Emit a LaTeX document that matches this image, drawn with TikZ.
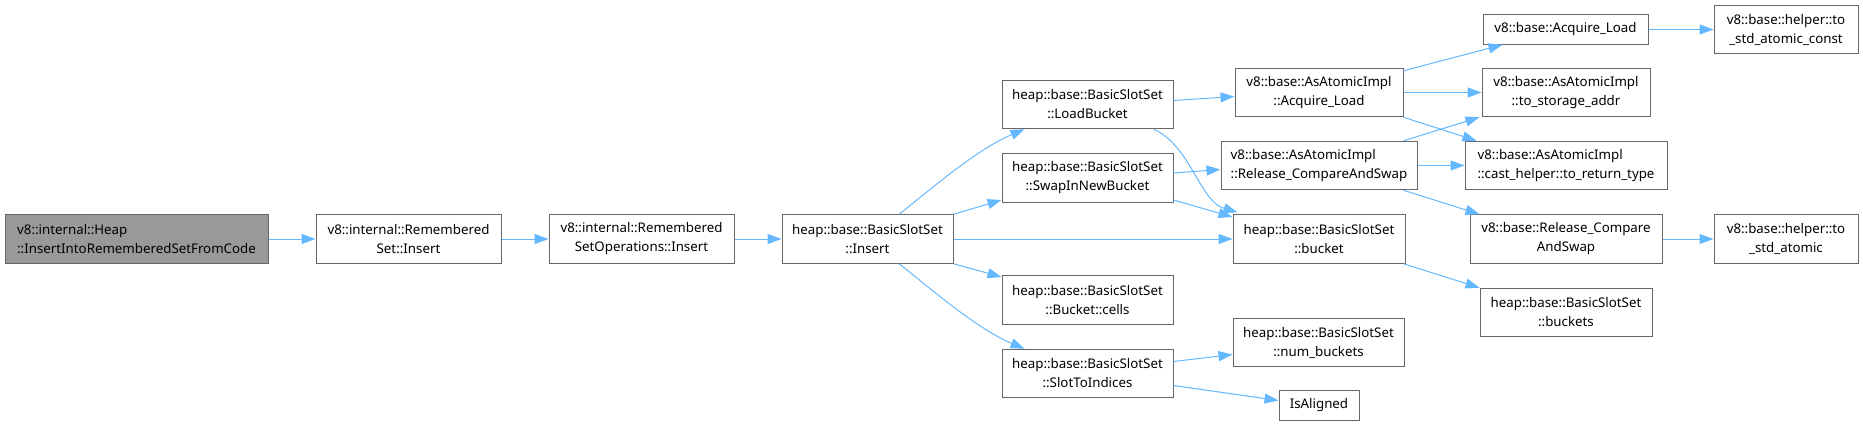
\documentclass[tikz,border=0pt]{standalone}
\usepackage{fontspec}
\setmainfont{Noto Sans}
\usetikzlibrary{calc,arrows.meta}
\definecolor{edgec}{HTML}{63B8FF}
\definecolor{boxc}{HTML}{666666}
\definecolor{hil}{HTML}{999999}
\begin{document}
\begin{tikzpicture}[x=1pt,y=-1pt,
  box/.style={draw=boxc,line width=1pt,fill=white,inner sep=0pt,minimum height=48.5pt,align=center,font=\fontsize{13.3}{19}\selectfont},
  sbox/.style={box,minimum height=29.5pt},
  lbox/.style={box,align=left},
  edge/.style={draw=edgec,line width=1pt,-{Triangle[length=14pt,width=10pt]}}]
\useasboundingbox (0,0) rectangle (1863,426);
% nodes
\node[lbox,fill=hil,minimum width=263pt] (heap) at (136.5,239) {v8::internal::Heap\\::InsertIntoRememberedSetFromCode};
\node[box,minimum width=185pt] (rs) at (408.5,239) {v8::internal::Remembered\\Set::Insert};
\node[box,minimum width=185pt] (rso) at (641.5,239) {v8::internal::Remembered\\SetOperations::Insert};
\node[box,minimum width=171pt] (ins) at (867.5,239) {heap::base::BasicSlotSet\\::Insert};
\node[box,minimum width=171pt] (load) at (1087.5,104.5) {heap::base::BasicSlotSet\\::LoadBucket};
\node[box,minimum width=171pt] (swap) at (1087.5,178) {heap::base::BasicSlotSet\\::SwapInNewBucket};
\node[box,minimum width=171pt] (cells) at (1087.5,300) {heap::base::BasicSlotSet\\::Bucket::cells};
\node[box,minimum width=171pt] (slot) at (1087.5,373.5) {heap::base::BasicSlotSet\\::SlotToIndices};
\node[box,minimum width=168pt] (aaiload) at (1319,92.5) {v8::base::AsAtomicImpl\\::Acquire\_Load};
\node[lbox,minimum width=196pt] (aaicas) at (1319,165.5) {v8::base::AsAtomicImpl\\::Release\_CompareAndSwap};
\node[box,minimum width=172pt] (bucket) at (1319,239) {heap::base::BasicSlotSet\\::bucket};
\node[box,minimum width=171pt] (numb) at (1318.5,342.5) {heap::base::BasicSlotSet\\::num\_buckets};
\node[sbox,minimum width=80pt] (isal) at (1319,405.5) {IsAligned};
\node[sbox,minimum width=165pt] (acq) at (1565.5,29.5) {v8::base::Acquire\_Load};
\node[box,minimum width=168pt] (tsa) at (1566,92.5) {v8::base::AsAtomicImpl\\::to\_storage\_addr};
\node[lbox,minimum width=202pt] (cast) at (1566,165.5) {v8::base::AsAtomicImpl\\::cast\_helper::to\_return\_type};
\node[box,minimum width=192pt] (rcas) at (1566,239) {v8::base::Release\_Compare\\AndSwap};
\node[box,minimum width=172pt] (bkts) at (1566,312.5) {heap::base::BasicSlotSet\\::buckets};
\node[box,minimum width=144pt] (tsac) at (1786,29.5) {v8::base::helper::to\\\_std\_atomic\_const};
\node[box,minimum width=144pt] (tsa2) at (1786,239) {v8::base::helper::to\\\_std\_atomic};
% edges
\draw[edge] (heap.east) -- (rs.west);
\draw[edge] (rs.east) -- (rso.west);
\draw[edge] (rso.east) -- (ins.west);
\draw[edge] ($(ins.north)+(31.5,0)$) .. controls ($(ins.north)+(57.5,-20)$) and ($(load.south west)+(-27,21)$) .. ($(load.south west)+(23,0)$);
\draw[edge] (ins.north east) -- ($(swap.west)+(0,22)$);
\draw[edge] (ins.east) -- (bucket.west);
\draw[edge] (ins.south east) -- ($(cells.west)+(0,-23)$);
\draw[edge] ($(ins.south)+(31.5,0)$) .. controls ($(ins.south)+(57.5,20)$) and ($(slot.north west)+(-27,-21)$) .. ($(slot.north west)+(23,0)$);
\draw[edge] ($(load.east)+(0,-4)$) -- ($(aaiload.west)+(0,4)$);
\draw[edge] ($(load.south east)+(-20,0)$) .. controls ($(load.south east)+(17,16)$) and ($(bucket.north west)+(-33,-13)$) .. ($(bucket.north west)+(5,-2)$);
\draw[edge] ($(swap.east)+(0,-5)$) -- ($(aaicas.west)+(0,4)$);
\draw[edge] ($(swap.east)+(0,22)$) -- ($(bucket.west)+(0,-22)$);
\draw[edge] ($(aaiload.north east)+(0,3)$) -- ($(acq.south west)+(20,0)$);
\draw[edge] (aaiload.east) -- (tsa.west);
\draw[edge] (aaiload.south east) -- ($(cast.north west)+(12,0)$);
\draw[edge] ($(aaicas.north east)+(-14,0)$) -- ($(tsa.south west)+(-2,0)$);
\draw[edge] (aaicas.east) -- (cast.west);
\draw[edge] ($(aaicas.south east)+(-14,0)$) -- ($(rcas.north west)+(10,0)$);
\draw[edge] (acq.east) -- (tsac.west);
\draw[edge] (rcas.east) -- (tsa2.west);
\draw[edge] ($(bucket.south east)+(-2,0)$) -- (bkts.north west);
\draw[edge] ($(slot.east)+(0,-12)$) -- ($(numb.west)+(0,12)$);
\draw[edge] ($(slot.east)+(0,12)$) -- ($(isal.west)+(0,-5)$);
\end{tikzpicture}
\end{document}
